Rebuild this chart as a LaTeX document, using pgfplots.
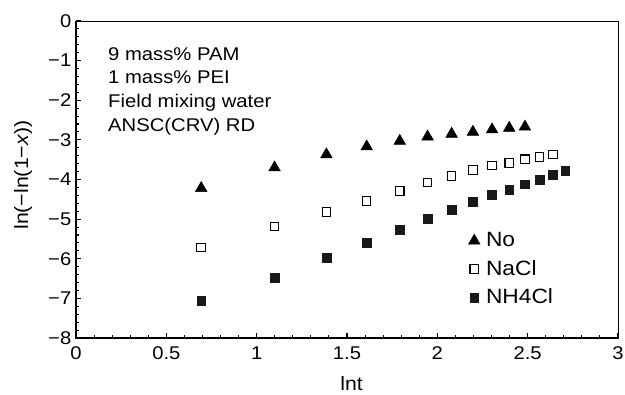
\documentclass[border=0pt]{standalone}
\usepackage{fontspec}
\setmainfont{Liberation Sans}[FakeStretch=1.1]
\usepackage{pgfplots}
\pgfplotsset{compat=1.18}

% single-mark legend images for scatter series
\pgfplotsset{
  dot/.style={only marks,
    legend image code/.code={\draw[##1] plot coordinates {(0pt,0pt)};}},
}

\pgfplotstableread{
x      y
0.693  -4.22
1.099  -3.70
1.386  -3.37
1.609  -3.17
1.792  -3.03
1.946  -2.92
2.079  -2.85
2.197  -2.80
2.303  -2.74
2.398  -2.70
2.485  -2.67
}\tabNo

\pgfplotstableread{
x      y
0.693  -5.72
1.099  -5.19
1.386  -4.82
1.609  -4.54
1.792  -4.29
1.946  -4.08
2.079  -3.91
2.197  -3.76
2.303  -3.65
2.398  -3.58
2.485  -3.49
2.565  -3.43
2.639  -3.37
}\tabNaCl

\pgfplotstableread{
x      y
0.693  -7.07
1.099  -6.47
1.386  -5.97
1.609  -5.59
1.792  -5.26
1.946  -5.00
2.079  -4.76
2.197  -4.56
2.303  -4.38
2.398  -4.25
2.485  -4.12
2.565  -4.00
2.639  -3.89
2.708  -3.78
}\tabNHCl

\begin{document}
\begin{tikzpicture}
\begin{axis}[
  name=main,
  scale only axis,
  width=406.5pt, height=237.75pt,
  xmin=0, xmax=3, ymin=-8, ymax=0,
  xtick={0,0.5,1,1.5,2,2.5,3},
  ytick={-8,-7,-6,-5,-4,-3,-2,-1,0},
  xticklabels={0,0.5,1,1.5,2,2.5,3},
  yticklabels={−8,−7,−6,−5,−4,−3,−2,−1,0},
  minor x tick num=4, minor y tick num=4,
  tick align=inside, tick pos=left,
  major tick length=4pt, minor tick length=2.5pt,
  every tick/.style={black, line width=0.8pt},
  axis line style={line width=0.75pt},
  font=\fontsize{13.8}{16}\selectfont,
  xticklabel style={yshift=-3pt},
  xlabel={lnt}, ylabel={ln(−ln(1−\textit{x}))},
  xlabel style={at={(axis description cs:0.5,0)}, anchor=center,
    yshift=-34.5pt, xshift=3.5pt, font=\fontsize{14.5}{16}\selectfont},
  ylabel style={at={(axis description cs:0,0.5)}, anchor=center,
    yshift=39.75pt, xshift=3.4pt, font=\fontsize{14.5}{16}\selectfont},
  legend style={at={(axis cs:2.171,-5.27)}, anchor=north west,
    draw=none, fill=none, inner sep=0pt, row sep=4.6pt, column sep=2.5pt,
    font=\fontsize{15.5}{17}\selectfont},
  legend cell align=left,
]
\addplot[dot, mark=triangle*, mark size=5pt, black] table {\tabNo};
\addlegendentry{No}
\addplot[dot, mark=square, mark size=3.2pt, black, line width=0.8pt, mark options={fill=white}] table {\tabNaCl};
\addlegendentry{NaCl}
\addplot[dot, mark=square*, mark size=3.3pt, black!90] table {\tabNHCl};
\addlegendentry{NH4Cl}

\draw[line width=1.5pt] (rel axis cs:0,1) -- (rel axis cs:0,0) -- (rel axis cs:1,0);

\node[anchor=north west, align=left, inner sep=0pt,
  font=\fontsize{13.8}{17.8}\selectfont] at (axis cs:0.177,-0.657)
  {9 mass\% PAM\\1 mass\% PEI\\Field mixing water\\ANSC(CRV) RD};
\end{axis}
\pgfresetboundingbox
\path[use as bounding box] ([shift={(-57pt,-42pt)}]main.south west)
  rectangle ([shift={(411.75pt,253.5pt)}]main.south west);
\end{tikzpicture}
\end{document}
